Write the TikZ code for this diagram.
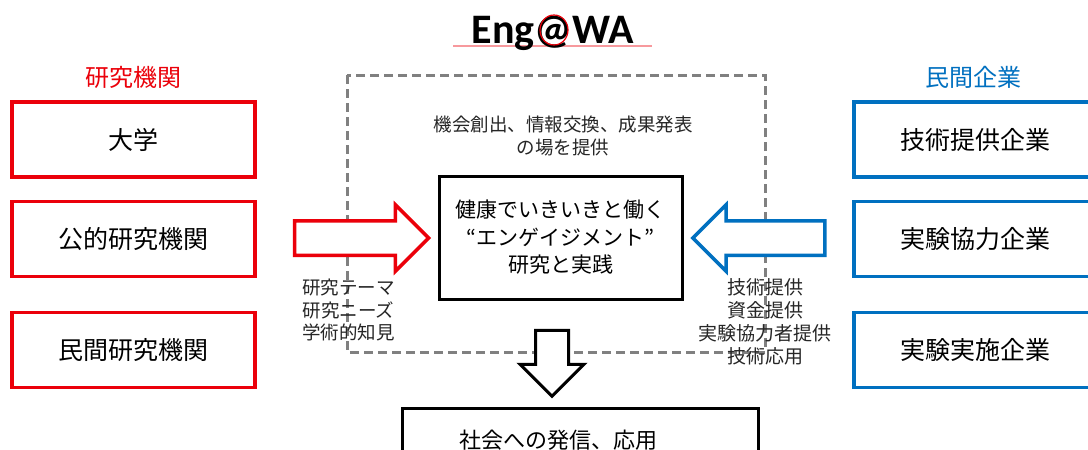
\documentclass[tikz,border=0pt]{standalone}
\usepackage{fontspec}
\setmainfont{Noto Sans CJK JP}
\newfontfamily\logofont{Carlito}
\definecolor{instred}{RGB}{235, 0, 10}
\definecolor{firmblue}{RGB}{0, 112, 192}
\definecolor{framegray}{RGB}{128, 128, 128}
\usetikzlibrary{shapes.arrows, positioning}

\tikzset{
  instbox/.style={draw=instred, line width=3.5pt, minimum width=243pt, minimum height=75pt, font=\fontsize{25}{30}\selectfont},
  firmbox/.style={draw=firmblue, line width=3.5pt, minimum width=243pt, minimum height=75pt, font=\fontsize{25}{30}\selectfont},
  headlabel/.style={font=\fontsize{24}{28}\selectfont},
  smalltext/.style={align=center, text=black!85, font=\fontsize{18.5}{22.5}\selectfont},
  blockarrow/.style={single arrow, fill=white, line width=3.5pt, inner sep=0pt}
}

\begin{document}
\begin{tikzpicture}[x=1pt, y=-1pt]
  \useasboundingbox (0,0) rectangle (1088,450);
  \fill[white] (0,0) rectangle (1088,450);

  % Logo
  \draw[instred!40, line width=2.5pt] (453,46) -- (652,46);
  \node[font=\logofont\bfseries\fontsize{42}{46}\selectfont, anchor=base] (logo) at (553,43) {Eng@WA};
  \draw[instred, line width=1.2pt] (554,30) ellipse (14 and 15);

  % Platform frame
  \draw[framegray, line width=3pt, dash pattern=on 9pt off 5pt] (347,75) rectangle (765,352);
  \node[smalltext] (forum) at (563,136) {機会創出、情報交換、成果発表\\の場を提供};

  % Research institutions
  \node[headlabel, text=instred] (insthead) at (133,77) {研究機関};
  \node[instbox] (univ) at (133.5,139.5) {大学};
  \node[instbox] (publab) at (133.5,239) {公的研究機関};
  \node[instbox] (privlab) at (133.5,350) {民間研究機関};

  % Companies
  \node[headlabel, text=firmblue] (firmhead) at (973,77) {民間企業};
  \node[firmbox] (techfirm) at (975.5,139.5) {技術提供企業};
  \node[firmbox] (coopfirm) at (975.5,239) {実験協力企業};
  \node[firmbox] (runfirm) at (975.5,350) {実験実施企業};

  % Core research
  \node[draw, line width=3pt, minimum width=243pt, minimum height=123pt, align=center, font=\fontsize{21}{27.5}\selectfont] (core) at (560.5,237.5) {健康でいきいきと働く\\“エンゲイジメント”\\研究と実践};

  % Inputs
  \node[blockarrow, draw=instred, minimum height=134pt, inner ysep=15.5pt, single arrow head extend=16pt] (inarrow) at (353,238) {};
  \node[smalltext] (needs) at (348.5,310) {研究テーマ\\研究ニーズ\\学術的知見};
  \node[blockarrow, draw=firmblue, rotate=180, minimum height=132pt, inner ysep=15.5pt, single arrow head extend=16pt] (supply) at (767.5,238) {};
  \node[smalltext, font=\fontsize{19}{23}\selectfont] (offers) at (765,322) {技術提供\\資金提供\\実験協力者提供\\技術応用};

  % Output
  \node[blockarrow, draw=black, line width=3pt, rotate=-90, minimum height=66pt, inner ysep=15pt, single arrow head extend=15.5pt] (outarrow) at (552,355) {};
  \node[draw, line width=3pt, minimum height=64pt, inner xsep=57pt, text width=242pt, align=left, font=\fontsize{22}{26}\selectfont] (society) at (580,440) {社会への発信、応用};
\end{tikzpicture}
\end{document}
